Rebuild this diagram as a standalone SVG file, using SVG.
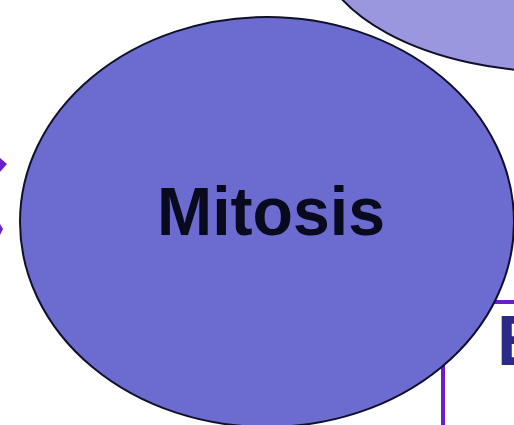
<svg xmlns="http://www.w3.org/2000/svg" width="514" height="425" viewBox="0 0 514 425">
<style>
.node{stroke:#10102a;stroke-width:2}
.conn{stroke:#6a1fc8;stroke-width:4;fill:none}
.lbl{font-family:"Liberation Sans",Arial,sans-serif;font-weight:bold}
</style>
<rect width="514" height="425" fill="#ffffff"/>
<g id="connectors">
<polyline class="conn" points="480,302 514,302"/>
<line class="conn" x1="443" y1="360" x2="443" y2="425"/>
<path d="M0,158 L7,164 L0,172 Z" fill="#6a1fc8"/>
<path d="M0,224 L3,229 L0,235 Z" fill="#6a1fc8"/>
</g>
<g id="node-top">
<ellipse class="node" cx="560" cy="-60" rx="244" ry="132" fill="#9b97de"/>
</g>
<g id="node-e">
<text class="lbl" x="497" y="365" font-size="70" fill="#2a2a88">E</text>
</g>
<g id="node-mitosis">
<ellipse class="node" cx="267" cy="222" rx="247" ry="205" fill="#6b6bd0"/>
<text class="lbl" x="157" y="235" font-size="68" textLength="228" lengthAdjust="spacingAndGlyphs" fill="#0a0a1e">Mitosis</text>
</g>
</svg>
